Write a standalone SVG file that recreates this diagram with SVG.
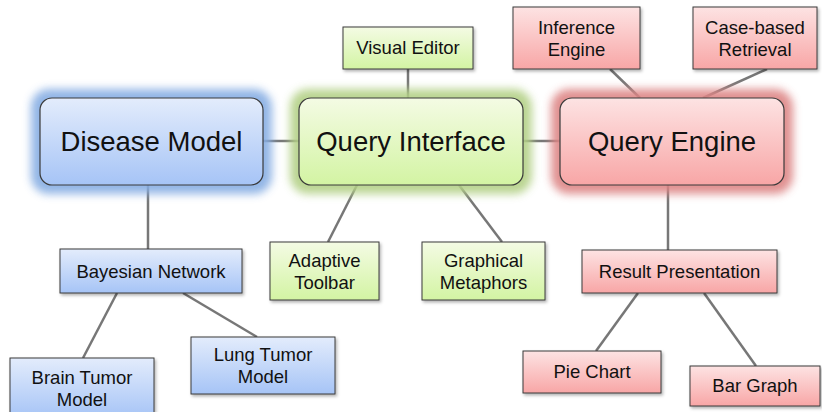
<svg xmlns="http://www.w3.org/2000/svg" width="822" height="412" viewBox="0 0 822 412">
<defs>
<linearGradient id="gb" x1="0" y1="0" x2="0" y2="1"><stop offset="0" stop-color="#e3ecfc"/><stop offset="1" stop-color="#a6c4f6"/></linearGradient>
<linearGradient id="gg" x1="0" y1="0" x2="0" y2="1"><stop offset="0" stop-color="#f4fbe4"/><stop offset="1" stop-color="#d3f4a3"/></linearGradient>
<linearGradient id="gr" x1="0" y1="0" x2="0" y2="1"><stop offset="0" stop-color="#fde3e3"/><stop offset="1" stop-color="#f8a6a6"/></linearGradient>
<filter id="glow" x="-20%" y="-30%" width="140%" height="160%"><feGaussianBlur stdDeviation="4"/></filter>
<filter id="sh" x="-10%" y="-10%" width="130%" height="140%"><feDropShadow dx="1.5" dy="2" stdDeviation="1.5" flood-color="#000" flood-opacity="0.3"/></filter>
</defs>
<style>
.big{stroke:#3a3a3a;stroke-width:1.2}
.sm{stroke:#3a3a3a;stroke-width:1;filter:url(#sh)}
.b{fill:url(#gb)}.g{fill:url(#gg)}.r{fill:url(#gr)}
text{font-family:"Liberation Sans",Arial,sans-serif;fill:#111;text-anchor:middle}
.t1{font-size:27.5px}.t2{font-size:18.5px}
#connectors line{stroke:#777;stroke-width:2.5}
</style>
<rect width="822" height="412" fill="#fff"/>
<g id="connectors">
<line x1="263" y1="141" x2="299" y2="141"/>
<line x1="523" y1="141" x2="560" y2="141"/>
<line x1="408" y1="69" x2="408" y2="98"/>
<line x1="357" y1="185" x2="328" y2="242"/>
<line x1="459" y1="185" x2="502" y2="242"/>
<line x1="148" y1="185" x2="148" y2="249"/>
<line x1="117" y1="293" x2="83" y2="358"/>
<line x1="183" y1="293" x2="257" y2="337"/>
<line x1="610" y1="69" x2="640" y2="98"/>
<line x1="767" y1="69" x2="703" y2="98"/>
<line x1="668" y1="185" x2="668" y2="250"/>
<line x1="638" y1="293" x2="596" y2="351"/>
<line x1="704" y1="293" x2="756" y2="366"/>
</g>
<g id="disease-model">
<rect x="31" y="89" width="241" height="105" rx="18" fill="#86ade3" opacity="0.9" filter="url(#glow)"/>
<rect class="big b" x="40" y="98" width="223" height="87" rx="12"/>
<text class="t1" x="151.5" y="151">Disease Model</text>
</g>
<g id="query-interface">
<rect x="290" y="89" width="242" height="105" rx="18" fill="#b3d086" opacity="0.9" filter="url(#glow)"/>
<rect class="big g" x="299" y="98" width="224" height="87" rx="12"/>
<text class="t1" x="411" y="151">Query Interface</text>
</g>
<g id="query-engine">
<rect x="551" y="89" width="242" height="105" rx="18" fill="#dd8585" opacity="0.9" filter="url(#glow)"/>
<rect class="big r" x="560" y="98" width="224" height="87" rx="12"/>
<text class="t1" x="672" y="151">Query Engine</text>
</g>
<g id="visual-editor">
<rect class="sm g" x="343" y="27" width="130" height="42"/>
<text class="t2" x="408" y="54">Visual Editor</text>
</g>
<g id="adaptive-toolbar">
<rect class="sm g" x="270" y="242" width="109" height="58"/>
<text class="t2" x="324.5" y="267">Adaptive</text>
<text class="t2" x="324.5" y="289">Toolbar</text>
</g>
<g id="graphical-metaphors">
<rect class="sm g" x="422" y="242" width="123" height="58"/>
<text class="t2" x="483.5" y="267">Graphical</text>
<text class="t2" x="483.5" y="289">Metaphors</text>
</g>
<g id="bayesian-network">
<rect class="sm b" x="60" y="249" width="182" height="44"/>
<text class="t2" x="151" y="278">Bayesian Network</text>
</g>
<g id="brain-tumor-model">
<rect class="sm b" x="10" y="358" width="144" height="60"/>
<text class="t2" x="82" y="384">Brain Tumor</text>
<text class="t2" x="82" y="406">Model</text>
</g>
<g id="lung-tumor-model">
<rect class="sm b" x="191" y="337" width="144" height="57"/>
<text class="t2" x="263" y="361">Lung Tumor</text>
<text class="t2" x="263" y="383">Model</text>
</g>
<g id="inference-engine">
<rect class="sm r" x="513" y="7" width="127" height="62"/>
<text class="t2" x="576.5" y="34">Inference</text>
<text class="t2" x="576.5" y="56">Engine</text>
</g>
<g id="case-based-retrieval">
<rect class="sm r" x="693" y="7" width="124" height="62"/>
<text class="t2" x="755" y="34">Case-based</text>
<text class="t2" x="755" y="56">Retrieval</text>
</g>
<g id="result-presentation">
<rect class="sm r" x="582" y="250" width="195" height="43"/>
<text class="t2" x="679.5" y="278">Result Presentation</text>
</g>
<g id="pie-chart">
<rect class="sm r" x="523" y="351" width="138" height="42"/>
<text class="t2" x="592" y="378">Pie Chart</text>
</g>
<g id="bar-graph">
<rect class="sm r" x="690" y="366" width="130" height="40"/>
<text class="t2" x="755" y="392">Bar Graph</text>
</g>
</svg>
